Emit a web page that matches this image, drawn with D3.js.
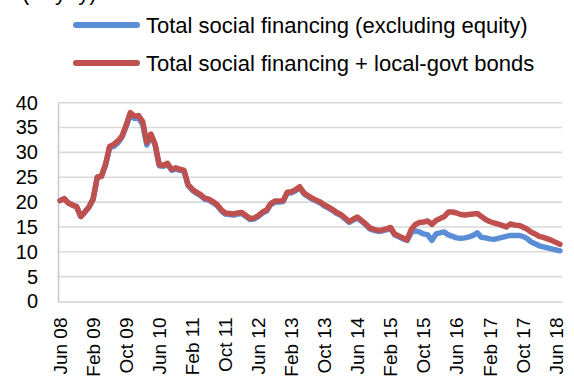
<!DOCTYPE html>
<html>
<head>
<meta charset="utf-8">
<script src="https://cdn.jsdelivr.net/npm/d3@7/dist/d3.min.js"></script>
<style>
  html, body { margin: 0; padding: 0; background: #fff; }
  svg { display: block; }
  text { font-family: "Liberation Sans", Arial, sans-serif; fill: #000; }
</style>
</head>
<body>
<svg id="chart" width="574" height="378"></svg>
<script>
// Monthly observations, Jun 2008 through Jul 2018
const months = d3.timeMonth.range(new Date(2008, 5, 1), new Date(2018, 7, 1));

// Total social financing, excluding equity (% yoy)
const tsfExEquity = [
  20.3, 20.7, 19.8, 19.4, 19.1, 17.1, 18.0, 19.0, 20.6, 25.0,
  25.2, 27.4, 31.0, 31.2, 31.9, 33.1, 35.2, 37.6, 36.8, 36.9,
  35.6, 31.5, 33.4, 31.5, 27.3, 27.2, 27.6, 26.4, 26.7, 26.4,
  26.2, 23.3, 22.4, 21.8, 21.3, 20.6, 20.4, 19.9, 19.3, 18.3,
  17.6, 17.5, 17.4, 17.6, 17.7, 17.1, 16.5, 16.6, 17.1, 17.8,
  18.2, 19.5, 20.0, 20.0, 20.1, 21.8, 21.9, 22.3, 22.9, 21.7,
  21.1, 20.6, 20.2, 19.8, 19.2, 18.8, 18.3, 17.7, 17.3, 16.6,
  15.9, 16.4, 16.8, 16.1, 15.4, 14.6, 14.3, 14.1, 14.2, 14.4,
  14.7, 13.4, 13.0, 12.6, 12.3, 13.9, 14.2, 14.0, 13.6, 13.4,
  12.3, 13.6, 13.8, 14.0, 13.4, 13.1, 12.8, 12.7, 12.8, 13.0,
  13.3, 13.8, 12.9, 12.8, 12.6, 12.5, 12.7, 12.9, 13.1, 13.3,
  13.3, 13.3, 13.1, 12.7, 12.0, 11.6, 11.2, 11.0, 10.8, 10.6,
  10.4, 10.2
];

// Total social financing plus local-government bonds (% yoy)
const tsfPlusLgb = [
  20.3, 20.7, 19.8, 19.4, 19.1, 17.1, 18.0, 19.0, 20.6, 25.0,
  25.2, 27.6, 31.2, 31.6, 32.3, 33.3, 35.5, 38.0, 37.3, 37.4,
  36.2, 32.0, 33.7, 31.7, 27.5, 27.4, 27.8, 26.6, 26.9, 26.6,
  26.4, 23.5, 22.6, 22.0, 21.5, 20.8, 20.6, 20.1, 19.5, 18.5,
  17.8, 17.7, 17.6, 17.8, 17.9, 17.3, 16.7, 16.8, 17.3, 18.0,
  18.4, 19.7, 20.2, 20.2, 20.3, 22.0, 22.1, 22.5, 23.1, 21.9,
  21.3, 20.8, 20.4, 20.0, 19.4, 19.0, 18.5, 17.9, 17.5, 16.8,
  16.1, 16.6, 17.0, 16.3, 15.6, 14.8, 14.5, 14.3, 14.4, 14.6,
  14.9, 13.6, 13.2, 12.8, 12.4, 14.5, 15.5, 15.9, 16.0, 16.2,
  15.5, 16.3, 16.7, 17.1, 18.0, 18.0, 17.8, 17.5, 17.4, 17.5,
  17.6, 17.7, 17.1, 16.5, 16.1, 15.8, 15.6, 15.3, 15.0, 15.6,
  15.4, 15.3, 15.0, 14.6, 14.0, 13.6, 13.1, 12.9, 12.6, 12.3,
  11.9, 11.5
];

const yTicks = [0, 5, 10, 15, 20, 25, 30, 35, 40];
const xTickLabels = [
  "Jun 08", "Feb 09", "Oct 09", "Jun 10", "Feb 11", "Oct 11", "Jun 12", "Feb 13",
  "Oct 13", "Jun 14", "Feb 15", "Oct 15", "Jun 16", "Feb 17", "Oct 17", "Jun 18"
];

const series = [
  { name: "Total social financing (excluding equity)", values: tsfExEquity, color: "#5A8ED6" },
  { name: "Total social financing + local-govt bonds", values: tsfPlusLgb, color: "#C0504D" }
];

const svg = d3.select("#chart");
const plot = { left: 58, right: 562, top: 102.7, bottom: 301.5 };

const x = d3.scaleBand()
  .domain(d3.range(months.length))
  .range([plot.left, plot.right])
  .padding(0);
const xc = i => x(i) + x.bandwidth() / 2;

const y = d3.scaleLinear().domain([0, 40]).range([plot.bottom, plot.top]);

// Horizontal gridlines
svg.append("g")
  .selectAll("line")
  .data(yTicks.filter(d => d > 0))
  .join("line")
  .attr("x1", plot.left).attr("x2", plot.right)
  .attr("y1", d => y(d)).attr("y2", d => y(d))
  .attr("stroke", "#D9D9D9")
  .attr("stroke-width", 1.6);

// Y axis
const yAxis = svg.append("g")
  .attr("transform", `translate(${plot.left},0)`)
  .call(d3.axisLeft(y).tickValues(yTicks).tickSize(0).tickPadding(20));
yAxis.select(".domain").attr("stroke", "#C8C8C8").attr("stroke-width", 1.6);
yAxis.selectAll("text")
  .attr("font-size", 20)
  .attr("font-family", "Liberation Sans, Arial, sans-serif")
  .attr("fill", "#000");

// X axis: labels every 8 months, rotated
const labelIdx = d3.range(0, months.length, 8);
const xAxis = svg.append("g")
  .attr("transform", `translate(0,${plot.bottom})`)
  .call(d3.axisBottom(x)
    .tickValues(labelIdx)
    .tickFormat((d, k) => xTickLabels[k])
    .tickSize(0)
    .tickSizeOuter(0));
xAxis.select(".domain").attr("stroke", "#D0D0D0").attr("stroke-width", 1.6);
xAxis.selectAll("text")
  .attr("font-size", 19)
  .attr("font-family", "Liberation Sans, Arial, sans-serif")
  .attr("fill", "#000")
  .attr("text-anchor", "end")
  .attr("transform", "translate(0,16) rotate(-90)")
  .attr("x", 0)
  .attr("y", 0)
  .attr("dy", "0.36em");

// Lines
const line = d3.line()
  .x((d, i) => xc(i))
  .y(d => y(d));

svg.append("g")
  .selectAll("path")
  .data(series)
  .join("path")
  .attr("d", s => line(s.values))
  .attr("fill", "none")
  .attr("stroke", s => s.color)
  .attr("stroke-width", 5.5)
  .attr("stroke-linejoin", "round")
  .attr("stroke-linecap", "round");

// Legend
const legend = svg.append("g");
series.forEach((s, k) => {
  const cy = 25 + k * 38;
  legend.append("line")
    .attr("x1", 76).attr("x2", 137)
    .attr("y1", cy).attr("y2", cy)
    .attr("stroke", s.color)
    .attr("stroke-width", 6)
    .attr("stroke-linecap", "round");
  legend.append("text")
    .attr("x", 146)
    .attr("y", cy + 7.5)
    .attr("font-size", 22)
    .text(s.name);
});

// Unit label at the top edge
svg.append("text")
  .attr("x", 22)
  .attr("y", -0.5)
  .attr("font-size", 22)
  .text("(% yoy)");
</script>
</body>
</html>
